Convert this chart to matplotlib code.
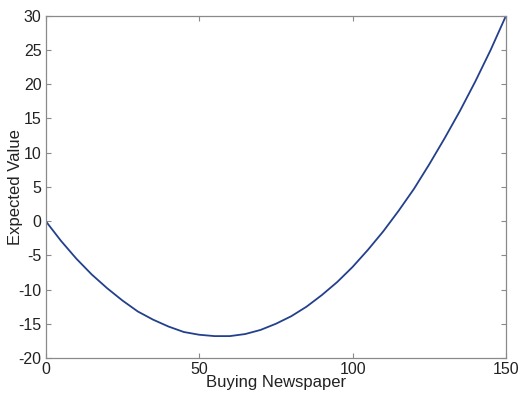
import numpy as np
import matplotlib
matplotlib.use('Agg')
import matplotlib.pyplot as plt

plt.rcParams['font.family'] = ['Liberation Sans', 'DejaVu Sans']
plt.rcParams['axes.unicode_minus'] = False

# newspapers bought vs. expected value
papers = [0, 5, 10, 15, 20, 25, 30, 35, 40, 45, 50, 55, 60, 65, 70, 75,
          80, 85, 90, 95, 100, 105, 110, 115, 120, 125, 130, 135, 140, 145, 150]
expected = [0.0, -2.9, -5.5, -7.8, -9.8, -11.6, -13.2, -14.4, -15.4, -16.2,
            -16.6, -16.8, -16.8, -16.5, -15.9, -15.0, -13.9, -12.5, -10.8,
            -8.9, -6.7, -4.2, -1.5, 1.5, 4.7, 8.3, 12.1, 16.1, 20.4, 25.0, 30.0]

xticks = [0, 50, 100, 150]
yticks = [-20, -15, -10, -5, 0, 5, 10, 15, 20, 25, 30]

fig = plt.figure(figsize=(5.26, 3.97), dpi=100)
ax = fig.add_axes([0.0869, 0.0982, 0.8751, 0.8623])

ax.plot(papers, expected, color='#23408c', lw=1.3)

ax.set_xlim(0, 150)
ax.set_ylim(-20, 30)
ax.set_xticks(xticks)
ax.set_yticks(yticks)

for s in ax.spines.values():
    s.set_color('#8a8a8a')
    s.set_linewidth(0.9)
ax.tick_params(direction='in', length=3.5, width=0.8, color='#8a8a8a',
               labelsize=11.5, labelcolor='#222222', top=True, right=True, pad=3)

ax.set_xlabel('Buying Newspaper', fontsize=12, color='#222222')
ax.set_ylabel('Expected Value', fontsize=12, color='#222222')
ax.xaxis.set_label_coords(0.5, -0.05)
ax.yaxis.set_label_coords(-0.05, 0.5)

fig.savefig('out.png', dpi=100)
